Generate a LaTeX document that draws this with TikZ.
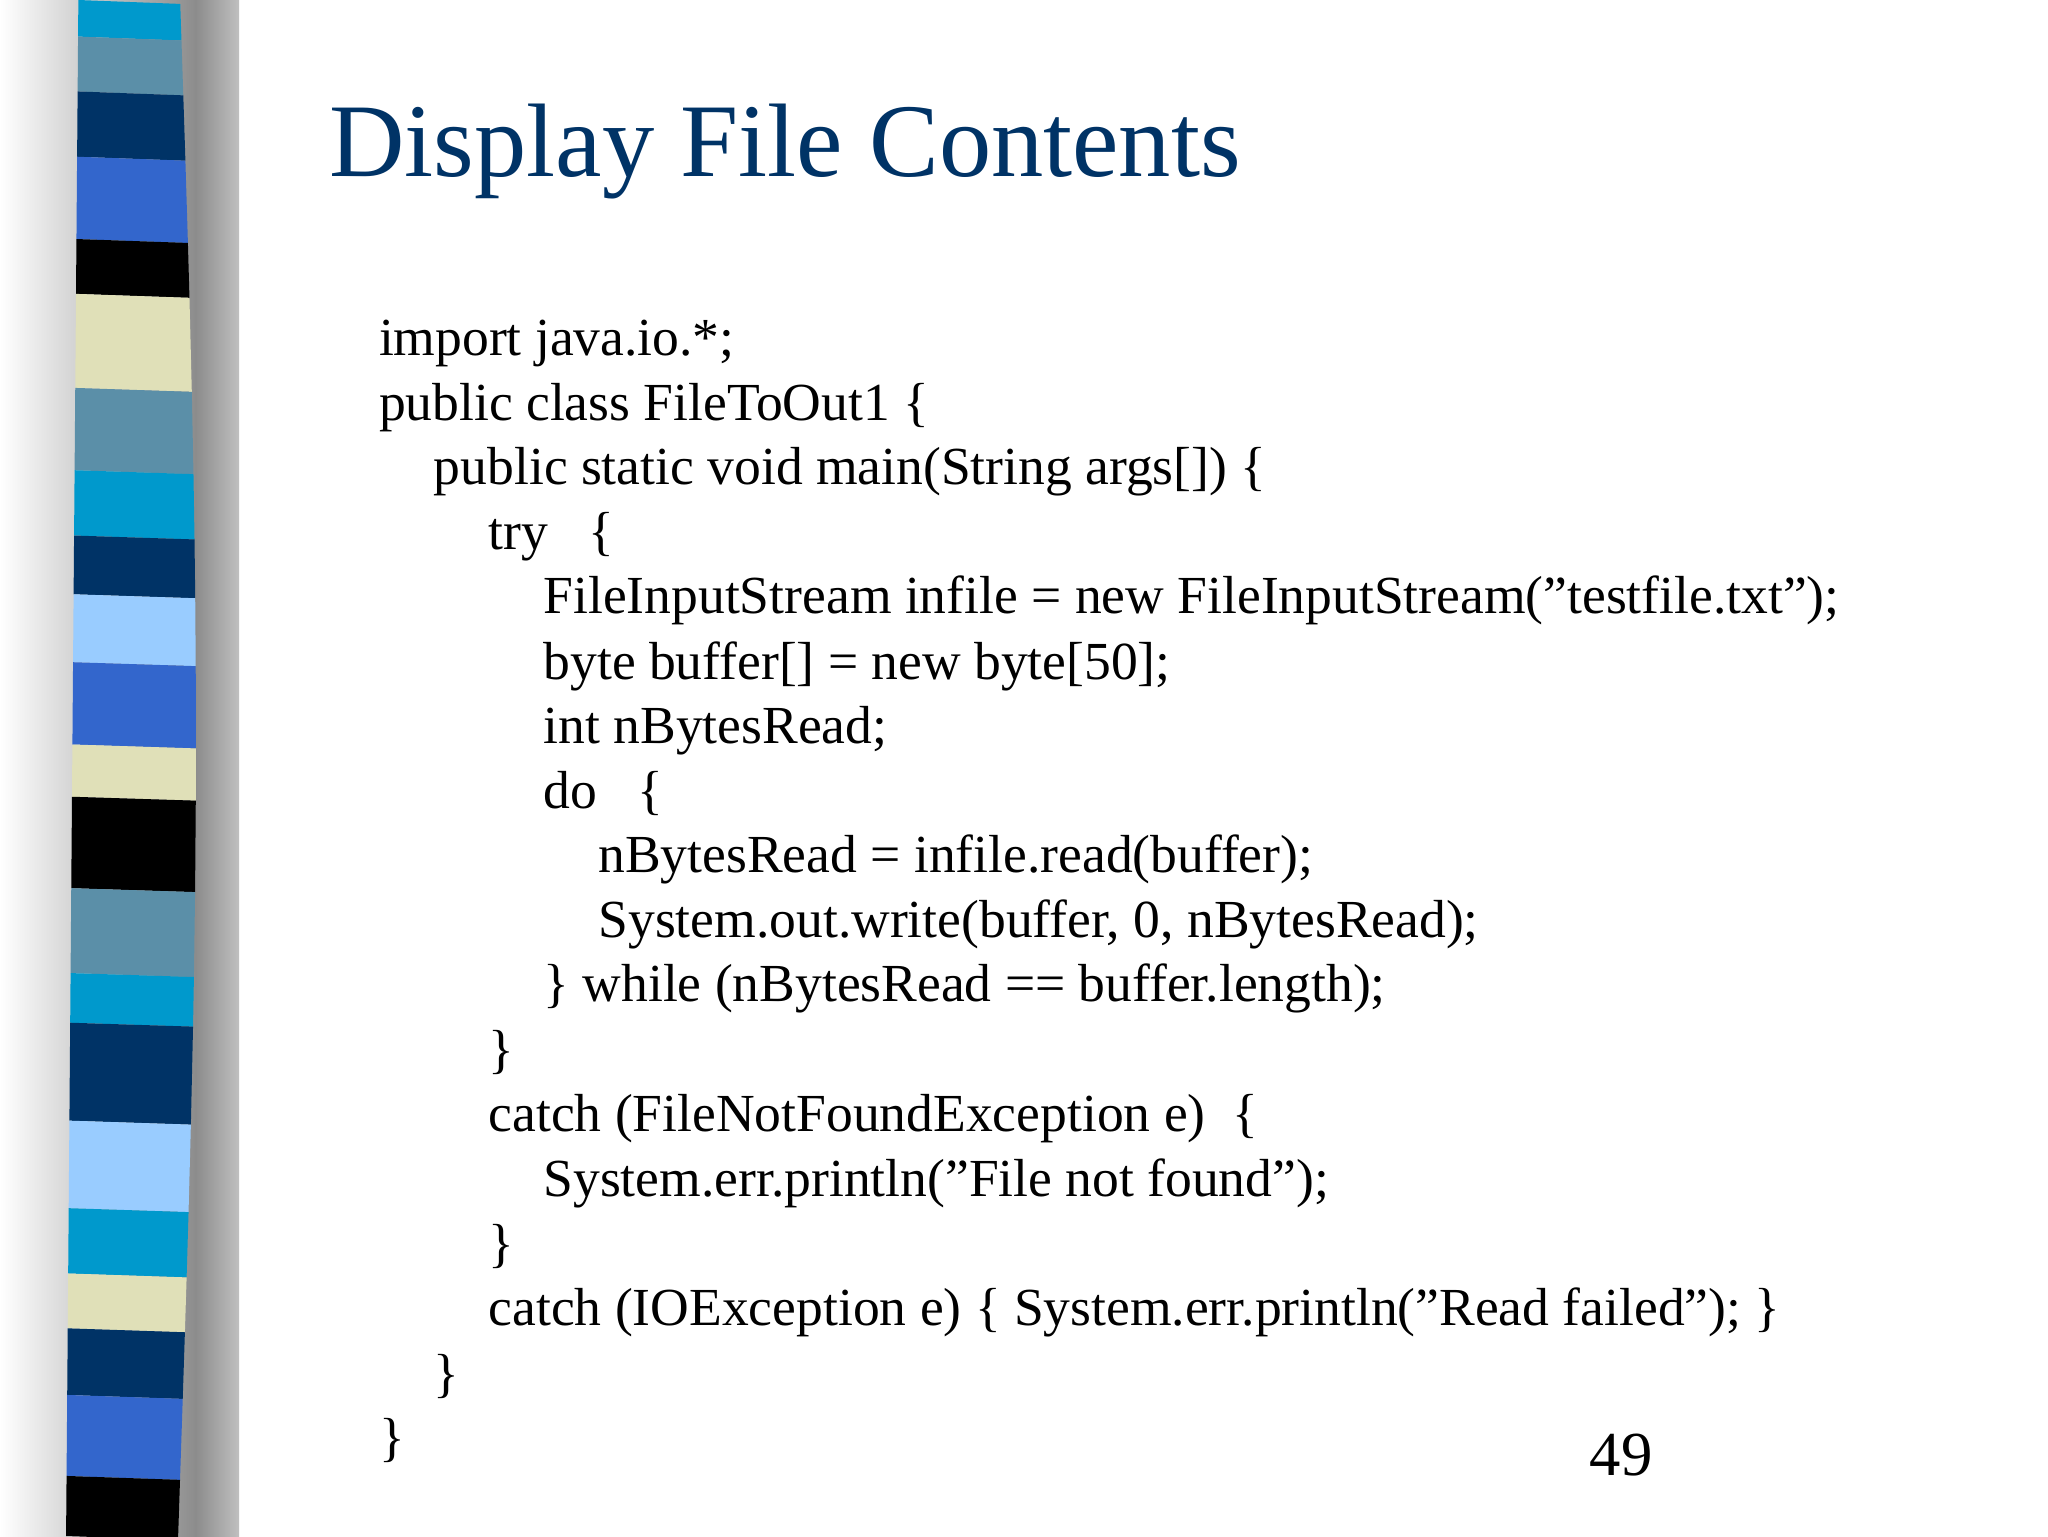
\documentclass[tikz,border=0pt]{standalone}
\usepackage{fontspec}
\setmainfont{Liberation Serif}
\definecolor{cy}{HTML}{0099CC}
\definecolor{sb}{HTML}{5B8FA8}
\definecolor{nv}{HTML}{003366}
\definecolor{rb}{HTML}{3366CC}
\definecolor{bg}{HTML}{E0E0B8}
\definecolor{lb}{HTML}{99CCFF}
\definecolor{bk}{HTML}{000000}
\tikzset{code/.style={anchor=base west,inner sep=0pt,font=\fontsize{41}{48}\selectfont}}
\begin{document}
\begin{tikzpicture}[x=1pt,y=-1pt]
\useasboundingbox (0,0) rectangle (1568,1176);
\fill[white] (0,0) rectangle (1568,1176);
\shade[left color=white,right color=black!45] (0,0) rectangle (150,1176);
\shade[left color=black!45,right color=black!25] (150,0) rectangle (183,1176);
\foreach \a/\b/\c in {0/28/cy,28/70/sb,70/120/nv,120/183/rb,183/225/bk,225/297/bg,297/360/sb,360/410/cy,410/455/nv,455/507/lb,507/570/rb,570/610/bg,610/680/bk,680/745/sb,745/783/cy,783/858/nv,858/925/lb,925/975/cy,975/1017/bg,1017/1068/nv,1068/1130/rb,1130/1176/bk}{
  \pgfmathsetmacro\la{60-0.008*\a}\pgfmathsetmacro\lb{60-0.008*\b}
  \pgfmathsetmacro\ra{138+12*sin(0.16*\a)}\pgfmathsetmacro\rb{138+12*sin(0.16*\b)}
  \fill[\c] (\la,\a) -- (\ra,\a+3) -- (\rb,\b+3) -- (\lb,\b) -- cycle;
}
\node[anchor=base west,inner sep=0pt,text=nv,font=\fontsize{80}{90}\selectfont] (title) at (252,135) {Display File Contents};
\node[code] (l1) at (290,272) {import java.io.*;};
\node[code] (l2) at (290,322) {public class FileToOut1 \{};
\node[code] (l3) at (332,371) {public static void main(String args[]) \{};
\node[code] (l4) at (374,421) {try \ \ \{};
\node[code] (l5) at (416,470) {FileInputStream infile = new FileInputStream("testfile.txt");};
\node[code] (l6) at (416,520) {byte buffer[] = new byte[50];};
\node[code] (l7) at (416,569) {int nBytesRead;};
\node[code] (l8) at (416,619) {do \ \ \{};
\node[code] (l9) at (458,668) {nBytesRead = infile.read(buffer);};
\node[code] (l10) at (458,718) {System.out.write(buffer, 0, nBytesRead);};
\node[code] (l11) at (416,767) {\} while (nBytesRead == buffer.length);};
\node[code] (l12) at (374,817) {\}};
\node[code] (l13) at (374,866) {catch (FileNotFoundException e) \ \{};
\node[code] (l14) at (416,916) {System.err.println("File not found");};
\node[code] (l15) at (374,966) {\}};
\node[code] (l16) at (374,1015) {catch (IOException e) \{ System.err.println("Read failed"); \}};
\node[code] (l17) at (332,1065) {\}};
\node[code] (l18) at (290,1114) {\}};
\node[anchor=base west,inner sep=0pt,font=\fontsize{48}{56}\selectfont] (pg) at (1217,1130) {49};
\end{tikzpicture}
\end{document}
